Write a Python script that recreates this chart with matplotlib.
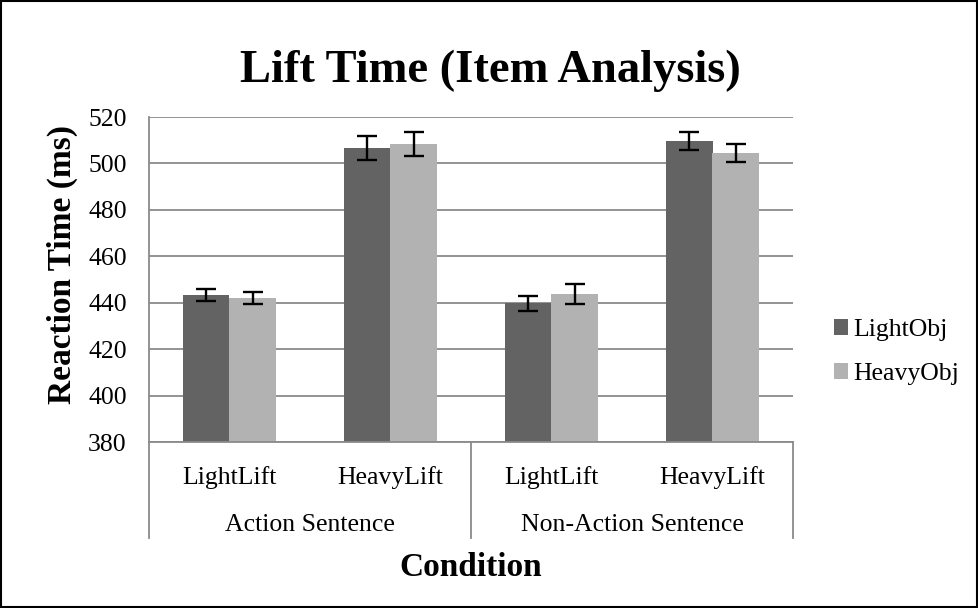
import matplotlib
matplotlib.use("Agg")
import matplotlib.pyplot as plt
import matplotlib.transforms as mtransforms
from matplotlib.patches import Rectangle
import numpy as np

# values
lift_labels = ["LightLift", "HeavyLift", "LightLift", "HeavyLift"]
sentence_labels = ["Action Sentence", "Non-Action Sentence"]
series_names = ["LightObj", "HeavyObj"]
light_obj = [443.2, 506.8, 439.7, 509.6]
heavy_obj = [442.0, 508.5, 443.9, 504.5]
light_err = [2.5, 5.2, 3.4, 4.0]
heavy_err = [2.5, 5.1, 4.3, 3.9]
y_ticks = [380, 400, 420, 440, 460, 480, 500, 520]

DARK = "#636363"
LIGHT = "#b2b2b2"
GRID = "#8a8a8a"

plt.rcParams["font.family"] = ["Liberation Serif", "DejaVu Serif"]

fig = plt.figure(figsize=(9.79, 6.08), dpi=100)
ax = fig.add_axes([149 / 979, 1 - 442 / 608, (793 - 149) / 979, (442 - 117) / 608])

x = np.arange(len(lift_labels))
w = 0.286
err_kw = dict(ecolor="black", elinewidth=1.7, capsize=7.5, capthick=1.7)
ax.bar(x - w / 2, light_obj, w, color=DARK, label=series_names[0], zorder=2,
       yerr=light_err, error_kw=err_kw)
ax.bar(x + w / 2, heavy_obj, w, color=LIGHT, label=series_names[1], zorder=2,
       yerr=heavy_err, error_kw=err_kw)

ax.set_xlim(-0.5, len(lift_labels) - 0.5)
ax.set_ylim(y_ticks[0], y_ticks[-1])
ax.set_yticks(y_ticks)
ax.yaxis.grid(True, color=GRID, linewidth=1.3, zorder=0)
ax.set_axisbelow(True)
ax.tick_params(axis="y", length=0, pad=16, labelsize=18.5)
ax.set_xticks([])
for s in ("top", "right"):
    ax.spines[s].set_visible(False)
for s in ("left", "bottom"):
    ax.spines[s].set_color(GRID)
    ax.spines[s].set_linewidth(1.3)

# two-level category axis
trans = mtransforms.blended_transform_factory(ax.transData, ax.transAxes)
for xi, lab in zip(x, lift_labels):
    ax.text(xi, -0.108, lab, transform=trans, ha="center", va="center", fontsize=18.5)
for i, lab in enumerate(sentence_labels):
    ax.text(2 * i + 0.5, -0.255, lab, transform=trans, ha="center", va="center", fontsize=18.5)
for sx in (-0.5, 1.5, 3.5):
    ax.plot([sx, sx], [0, -0.295], transform=trans, color=GRID, linewidth=1.3, clip_on=False)

ax.text(0.5, -0.385, "Condition", transform=ax.transAxes, ha="center", va="center",
        fontsize=24, fontweight="bold")
fig.text(62 / 979, 1 - 264 / 608, "Reaction Time (ms)", rotation=90, ha="center", va="center",
         fontsize=24, fontweight="bold")
fig.text(490 / 979, 1 - 71 / 608, "Lift Time (Item Analysis)", ha="center", va="center",
         fontsize=33.5, fontweight="bold")

fig.legend(loc="center left", bbox_to_anchor=(834 / 979, 1 - 352 / 608), frameon=False,
           fontsize=18.5, handlelength=0.55, handleheight=0.55, handletextpad=0.2,
           labelspacing=0.85, borderpad=0, borderaxespad=0)

fig.patches.append(Rectangle((0.001, 0.002), 0.997, 0.996, transform=fig.transFigure,
                             fill=False, edgecolor="black", linewidth=1.5))

fig.savefig("out.png", dpi=100)
